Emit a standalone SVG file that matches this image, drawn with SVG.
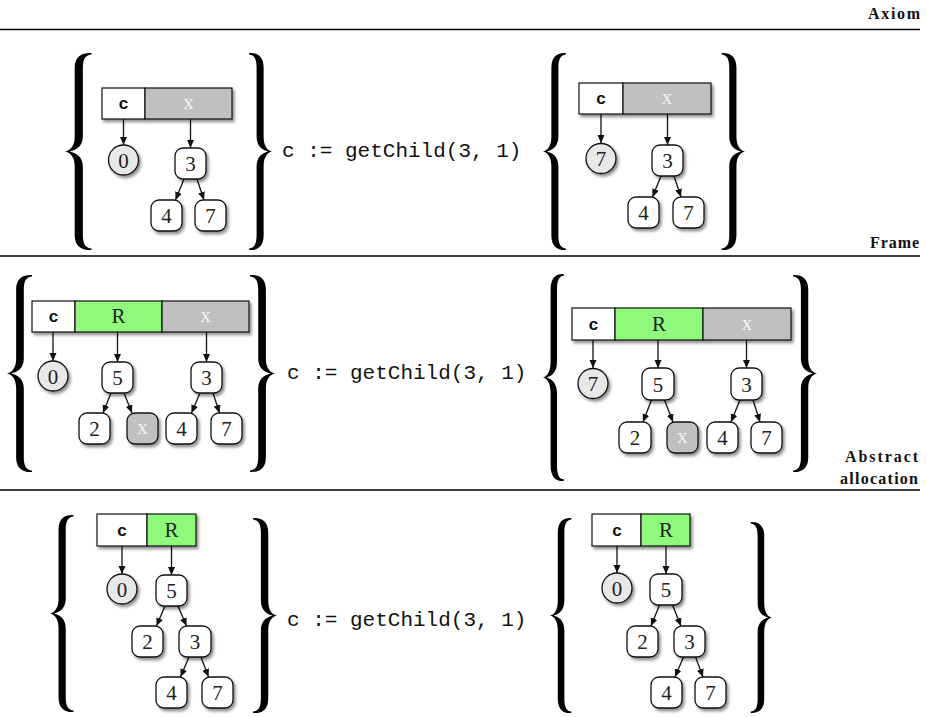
<svg xmlns="http://www.w3.org/2000/svg" xmlns:xlink="http://www.w3.org/1999/xlink" width="927" height="717" viewBox="0 0 927 717">
  <style>
    .rule { stroke: #000; stroke-width: 1.4; fill: none; }
    .lbl { font-family: "Liberation Serif", "DejaVu Serif", serif; font-weight: bold; font-size: 16px; fill: #111; }
    .code { font-family: "Liberation Mono", "DejaVu Sans Mono", monospace; font-size: 21px; fill: #111; }
    .cellc { font-family: "Liberation Mono", "DejaVu Sans Mono", monospace; font-weight: bold; font-size: 17px; fill: #111; }
    .serif { font-family: "Liberation Serif", "DejaVu Serif", serif; font-size: 21px; fill: #222; }
    .cw { fill: #fff; stroke: #111; stroke-width: 1.2; }
    .cg { fill: #c0c0c0; stroke: #111; stroke-width: 1.2; }
    .cr { fill: #8ff97c; stroke: #111; stroke-width: 1.2; }
    .nd { fill: #fff; stroke: #111; stroke-width: 1.3; }
    .ndg { fill: #c0c0c0; stroke: #111; stroke-width: 1.3; }
    .ci { fill: #e8e8e8; stroke: #111; stroke-width: 1.3; }
    .wt { fill: #f2f2f2; }
    .edge { stroke: #111; stroke-width: 1.3; fill: none; marker-end: url(#ah); }
    .brace { fill: #000; }
  </style>
  <defs>
    <filter id="sh" x="-30%" y="-30%" width="170%" height="170%">
      <feDropShadow dx="2" dy="2.5" stdDeviation="1.5" flood-color="#000" flood-opacity="0.45"/>
    </filter>
    <marker id="ah" markerUnits="userSpaceOnUse" markerWidth="9" markerHeight="8" refX="8" refY="3.5" orient="auto">
      <path d="M0,0 L8,3.5 L0,7 Z" fill="#111"/>
    </marker>
    <!-- left curly brace, cusp at origin, 26 wide, 200 tall -->
    <path id="lb" class="brace" d="M26,-100 C17,-100.5 9.5,-97 9.5,-85 L9.5,-15 C9.5,-6 5.5,-1 0,0 C5.5,1 9.5,6 9.5,15 L9.5,85 C9.5,97 17,100.5 26,100 L26,98.4 C20.5,98 17.5,94.5 17.5,85 L17.5,15 C17.5,6 11.5,1.5 4.5,0 C11.5,-1.5 17.5,-6 17.5,-15 L17.5,-85 C17.5,-94.5 20.5,-98 26,-98.4 Z"/>
  </defs>

  <rect width="927" height="717" fill="#fff"/>

  <!-- section rules and labels -->
  <g id="labels">
    <text class="lbl" x="920" y="19" text-anchor="end" textLength="52" lengthAdjust="spacing">Axiom</text>
    <line class="rule" x1="0" y1="29.5" x2="920" y2="29.5"/>
    <text class="lbl" x="919" y="248" text-anchor="end" textLength="49" lengthAdjust="spacing">Frame</text>
    <line class="rule" x1="0" y1="256" x2="920" y2="256"/>
    <text class="lbl" x="918" y="462" text-anchor="end" textLength="73" lengthAdjust="spacing">Abstract</text>
    <text class="lbl" x="918" y="484" text-anchor="end" textLength="78" lengthAdjust="spacing">allocation</text>
    <line class="rule" x1="0" y1="490" x2="920" y2="490"/>
  </g>

  <!-- braces -->
  <g id="braces">
    <use xlink:href="#lb" transform="translate(65,151.5) scale(1.02,0.985)"/>
    <use xlink:href="#lb" transform="translate(272,151.5) scale(-0.88,0.985)"/>
    <use xlink:href="#lb" transform="translate(543,151.5) scale(0.88,0.985)"/>
    <use xlink:href="#lb" transform="translate(745,151.5) scale(-0.9,0.985)"/>

    <use xlink:href="#lb" transform="translate(7,373.5) scale(0.96,0.985)"/>
    <use xlink:href="#lb" transform="translate(275,373.5) scale(-0.96,0.985)"/>
    <use xlink:href="#lb" transform="translate(543,377.5) scale(0.8,1.035)"/>
    <use xlink:href="#lb" transform="translate(817,373.5) scale(-0.92,0.985)"/>

    <use xlink:href="#lb" transform="translate(50,613.5) scale(0.9,0.985)"/>
    <use xlink:href="#lb" transform="translate(277,615.5) scale(-0.92,0.975)"/>
    <use xlink:href="#lb" transform="translate(550,615.5) scale(0.82,0.975)"/>
    <use xlink:href="#lb" transform="translate(772,617.5) scale(-0.82,0.955)"/>
  </g>

  <!-- commands -->
  <g id="commands">
    <text class="code" x="282" y="157">c := getChild(3, 1)</text>
    <text class="code" x="287" y="379">c := getChild(3, 1)</text>
    <text class="code" x="287" y="626">c := getChild(3, 1)</text>
  </g>

  <!-- connectors -->
  <g id="connectors">
    <!-- axiom, pre -->
    <line class="edge" x1="123.5" y1="119" x2="123.5" y2="145"/>
    <line class="edge" x1="190.5" y1="119" x2="190.5" y2="148"/>
    <line class="edge" x1="184" y1="179" x2="175.5" y2="200"/>
    <line class="edge" x1="197" y1="179" x2="204" y2="200"/>
    <!-- axiom, post -->
    <line class="edge" x1="601" y1="114" x2="601" y2="143"/>
    <line class="edge" x1="667.5" y1="114" x2="667.5" y2="145"/>
    <line class="edge" x1="661" y1="176" x2="652.5" y2="197"/>
    <line class="edge" x1="674" y1="176" x2="681" y2="197"/>
    <!-- frame, pre -->
    <line class="edge" x1="53" y1="332" x2="53" y2="361"/>
    <line class="edge" x1="117.5" y1="332" x2="117.5" y2="362"/>
    <line class="edge" x1="206.5" y1="332" x2="206.5" y2="362"/>
    <line class="edge" x1="111" y1="393" x2="103" y2="413"/>
    <line class="edge" x1="124" y1="393" x2="132" y2="413"/>
    <line class="edge" x1="200" y1="393" x2="191.5" y2="413"/>
    <line class="edge" x1="213" y1="393" x2="219.5" y2="413"/>
    <!-- frame, post -->
    <line class="edge" x1="593" y1="340" x2="593" y2="368"/>
    <line class="edge" x1="658" y1="340" x2="658" y2="368"/>
    <line class="edge" x1="746.5" y1="340" x2="746.5" y2="368"/>
    <line class="edge" x1="651.5" y1="400" x2="643" y2="422"/>
    <line class="edge" x1="664.5" y1="400" x2="673" y2="422"/>
    <line class="edge" x1="740" y1="400" x2="731" y2="422"/>
    <line class="edge" x1="753" y1="400" x2="760" y2="422"/>
    <!-- abstract allocation, pre -->
    <line class="edge" x1="122" y1="546" x2="122" y2="574"/>
    <line class="edge" x1="171.5" y1="546" x2="171.5" y2="575"/>
    <line class="edge" x1="165" y1="606" x2="156.5" y2="626"/>
    <line class="edge" x1="178" y1="606" x2="186.5" y2="626"/>
    <line class="edge" x1="189" y1="657" x2="180.5" y2="677"/>
    <line class="edge" x1="201" y1="657" x2="208.5" y2="677"/>
    <!-- abstract allocation, post -->
    <line class="edge" x1="617" y1="546" x2="617" y2="573"/>
    <line class="edge" x1="666" y1="546" x2="666" y2="574"/>
    <line class="edge" x1="659.5" y1="605" x2="651" y2="626"/>
    <line class="edge" x1="672.5" y1="605" x2="681" y2="626"/>
    <line class="edge" x1="683.5" y1="657" x2="675" y2="677"/>
    <line class="edge" x1="695.5" y1="657" x2="703" y2="677"/>
  </g>

  <!-- ===== Axiom: precondition ===== -->
  <g id="ax-pre-store" filter="url(#sh)">
    <rect class="cw" x="102" y="88" width="43" height="31"/>
    <rect class="cg" x="145" y="88" width="87" height="31"/>
  </g>
  <g id="ax-pre-store-text">
    <text class="cellc" x="123.5" y="109" text-anchor="middle">c</text>
    <text class="serif wt" x="188.5" y="109" text-anchor="middle" font-size="17">x</text>
  </g>
  <g id="ax-pre-v0"><circle class="ci" cx="123.5" cy="160" r="15" filter="url(#sh)"/><text class="serif" x="123.5" y="167.5" text-anchor="middle">0</text></g>
  <g id="ax-pre-n3"><rect class="nd" x="175" y="148" width="31" height="31" rx="8" filter="url(#sh)"/><text class="serif" x="190.5" y="171" text-anchor="middle">3</text></g>
  <g id="ax-pre-n4"><rect class="nd" x="151" y="200" width="31" height="31" rx="8" filter="url(#sh)"/><text class="serif" x="166.5" y="223" text-anchor="middle">4</text></g>
  <g id="ax-pre-n7"><rect class="nd" x="195" y="200" width="31" height="31" rx="8" filter="url(#sh)"/><text class="serif" x="210.5" y="223" text-anchor="middle">7</text></g>

  <!-- ===== Axiom: postcondition ===== -->
  <g id="ax-post-store" filter="url(#sh)">
    <rect class="cw" x="579" y="83" width="44" height="31"/>
    <rect class="cg" x="623" y="83" width="88" height="31"/>
  </g>
  <g id="ax-post-store-text">
    <text class="cellc" x="601" y="104" text-anchor="middle">c</text>
    <text class="serif wt" x="667" y="104" text-anchor="middle" font-size="17">x</text>
  </g>
  <g id="ax-post-v7"><circle class="ci" cx="601" cy="158.5" r="15" filter="url(#sh)"/><text class="serif" x="601" y="166" text-anchor="middle">7</text></g>
  <g id="ax-post-n3"><rect class="nd" x="652" y="145" width="31" height="31" rx="8" filter="url(#sh)"/><text class="serif" x="667.5" y="168" text-anchor="middle">3</text></g>
  <g id="ax-post-n4"><rect class="nd" x="628" y="197" width="31" height="31" rx="8" filter="url(#sh)"/><text class="serif" x="643.5" y="220" text-anchor="middle">4</text></g>
  <g id="ax-post-n7"><rect class="nd" x="673" y="197" width="31" height="31" rx="8" filter="url(#sh)"/><text class="serif" x="688.5" y="220" text-anchor="middle">7</text></g>

  <!-- ===== Frame: precondition ===== -->
  <g id="fr-pre-store" filter="url(#sh)">
    <rect class="cw" x="32" y="301" width="43" height="31"/>
    <rect class="cr" x="75" y="301" width="87" height="31"/>
    <rect class="cg" x="162" y="301" width="87" height="31"/>
  </g>
  <g id="fr-pre-store-text">
    <text class="cellc" x="53.5" y="322" text-anchor="middle">c</text>
    <text class="serif" x="118.5" y="323" text-anchor="middle" font-size="19" fill="#222">R</text>
    <text class="serif wt" x="205.5" y="322" text-anchor="middle" font-size="17">x</text>
  </g>
  <g id="fr-pre-v0"><circle class="ci" cx="53" cy="376" r="15" filter="url(#sh)"/><text class="serif" x="53" y="383.5" text-anchor="middle">0</text></g>
  <g id="fr-pre-n5"><rect class="nd" x="102" y="362" width="31" height="31" rx="8" filter="url(#sh)"/><text class="serif" x="117.5" y="385" text-anchor="middle">5</text></g>
  <g id="fr-pre-n3"><rect class="nd" x="191" y="362" width="31" height="31" rx="8" filter="url(#sh)"/><text class="serif" x="206.5" y="385" text-anchor="middle">3</text></g>
  <g id="fr-pre-n2"><rect class="nd" x="79" y="413" width="31" height="31" rx="8" filter="url(#sh)"/><text class="serif" x="94.5" y="436" text-anchor="middle">2</text></g>
  <g id="fr-pre-nx"><rect class="ndg" x="127" y="413" width="31" height="31" rx="8" filter="url(#sh)"/><text class="serif wt" x="142.5" y="434" text-anchor="middle" font-size="17">x</text></g>
  <g id="fr-pre-n4"><rect class="nd" x="166" y="413" width="31" height="31" rx="8" filter="url(#sh)"/><text class="serif" x="181.5" y="436" text-anchor="middle">4</text></g>
  <g id="fr-pre-n7"><rect class="nd" x="211" y="413" width="31" height="31" rx="8" filter="url(#sh)"/><text class="serif" x="226.5" y="436" text-anchor="middle">7</text></g>

  <!-- ===== Frame: postcondition ===== -->
  <g id="fr-post-store" filter="url(#sh)">
    <rect class="cw" x="572" y="308" width="43" height="32"/>
    <rect class="cr" x="615" y="308" width="88" height="32"/>
    <rect class="cg" x="703" y="308" width="88" height="32"/>
  </g>
  <g id="fr-post-store-text">
    <text class="cellc" x="593.5" y="330" text-anchor="middle">c</text>
    <text class="serif" x="659" y="331" text-anchor="middle" font-size="19" fill="#222">R</text>
    <text class="serif wt" x="747" y="330" text-anchor="middle" font-size="17">x</text>
  </g>
  <g id="fr-post-v7"><circle class="ci" cx="593" cy="383.5" r="15" filter="url(#sh)"/><text class="serif" x="593" y="391" text-anchor="middle">7</text></g>
  <g id="fr-post-n5"><rect class="nd" x="642" y="368" width="32" height="32" rx="8" filter="url(#sh)"/><text class="serif" x="658" y="391.5" text-anchor="middle">5</text></g>
  <g id="fr-post-n3"><rect class="nd" x="731" y="368" width="31" height="32" rx="8" filter="url(#sh)"/><text class="serif" x="746.5" y="391.5" text-anchor="middle">3</text></g>
  <g id="fr-post-n2"><rect class="nd" x="619" y="422" width="32" height="31" rx="8" filter="url(#sh)"/><text class="serif" x="635" y="445" text-anchor="middle">2</text></g>
  <g id="fr-post-nx"><rect class="ndg" x="667" y="422" width="31" height="31" rx="8" filter="url(#sh)"/><text class="serif wt" x="682.5" y="443" text-anchor="middle" font-size="17">x</text></g>
  <g id="fr-post-n4"><rect class="nd" x="707" y="422" width="31" height="31" rx="8" filter="url(#sh)"/><text class="serif" x="722.5" y="445" text-anchor="middle">4</text></g>
  <g id="fr-post-n7"><rect class="nd" x="751" y="422" width="31" height="31" rx="8" filter="url(#sh)"/><text class="serif" x="766.5" y="445" text-anchor="middle">7</text></g>

  <!-- ===== Abstract allocation: precondition ===== -->
  <g id="aa-pre-store" filter="url(#sh)">
    <rect class="cw" x="97" y="514" width="50" height="32"/>
    <rect class="cr" x="147" y="514" width="49" height="32"/>
  </g>
  <g id="aa-pre-store-text">
    <text class="cellc" x="122" y="536" text-anchor="middle">c</text>
    <text class="serif" x="171.5" y="537" text-anchor="middle" font-size="19" fill="#222">R</text>
  </g>
  <g id="aa-pre-v0"><circle class="ci" cx="122" cy="589" r="15" filter="url(#sh)"/><text class="serif" x="122" y="596.5" text-anchor="middle">0</text></g>
  <g id="aa-pre-n5"><rect class="nd" x="156" y="575" width="31" height="31" rx="8" filter="url(#sh)"/><text class="serif" x="171.5" y="598" text-anchor="middle">5</text></g>
  <g id="aa-pre-n2"><rect class="nd" x="132" y="626" width="31" height="31" rx="8" filter="url(#sh)"/><text class="serif" x="147.5" y="649" text-anchor="middle">2</text></g>
  <g id="aa-pre-n3"><rect class="nd" x="179" y="626" width="32" height="31" rx="8" filter="url(#sh)"/><text class="serif" x="195" y="649" text-anchor="middle">3</text></g>
  <g id="aa-pre-n4"><rect class="nd" x="156" y="677" width="31" height="31" rx="8" filter="url(#sh)"/><text class="serif" x="171.5" y="700" text-anchor="middle">4</text></g>
  <g id="aa-pre-n7"><rect class="nd" x="202" y="677" width="31" height="31" rx="8" filter="url(#sh)"/><text class="serif" x="217.5" y="700" text-anchor="middle">7</text></g>

  <!-- ===== Abstract allocation: postcondition ===== -->
  <g id="aa-post-store" filter="url(#sh)">
    <rect class="cw" x="592" y="514" width="49" height="32"/>
    <rect class="cr" x="641" y="514" width="49" height="32"/>
  </g>
  <g id="aa-post-store-text">
    <text class="cellc" x="617" y="536" text-anchor="middle">c</text>
    <text class="serif" x="666" y="537" text-anchor="middle" font-size="19" fill="#222">R</text>
  </g>
  <g id="aa-post-v0"><circle class="ci" cx="617" cy="588" r="15" filter="url(#sh)"/><text class="serif" x="617" y="595.5" text-anchor="middle">0</text></g>
  <g id="aa-post-n5"><rect class="nd" x="650" y="574" width="32" height="31" rx="8" filter="url(#sh)"/><text class="serif" x="666" y="597" text-anchor="middle">5</text></g>
  <g id="aa-post-n2"><rect class="nd" x="627" y="626" width="31" height="31" rx="8" filter="url(#sh)"/><text class="serif" x="642.5" y="649" text-anchor="middle">2</text></g>
  <g id="aa-post-n3"><rect class="nd" x="674" y="626" width="31" height="31" rx="8" filter="url(#sh)"/><text class="serif" x="689.5" y="649" text-anchor="middle">3</text></g>
  <g id="aa-post-n4"><rect class="nd" x="651" y="677" width="31" height="31" rx="8" filter="url(#sh)"/><text class="serif" x="666.5" y="700" text-anchor="middle">4</text></g>
  <g id="aa-post-n7"><rect class="nd" x="695" y="677" width="31" height="31" rx="8" filter="url(#sh)"/><text class="serif" x="710.5" y="700" text-anchor="middle">7</text></g>
</svg>
